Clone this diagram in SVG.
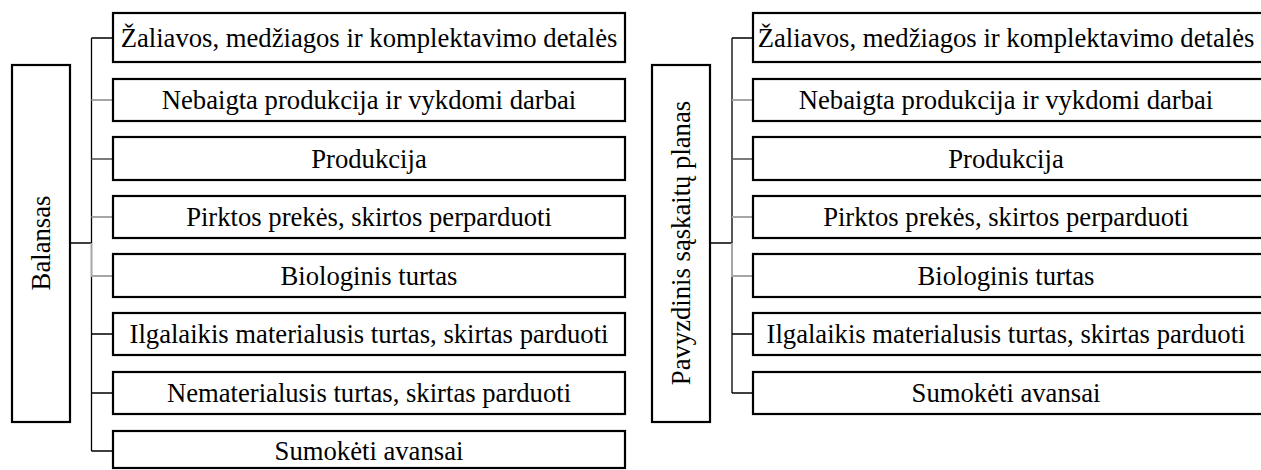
<svg xmlns="http://www.w3.org/2000/svg" width="1261" height="470" viewBox="0 0 1261 470">
<style>
.box{fill:#fff;stroke:#000;stroke-width:2.2}
.t{font-family:"Liberation Serif","Times New Roman","DejaVu Serif",serif;font-size:26.67px;fill:#000;text-anchor:middle}
.c{fill:none;stroke:#000;stroke-width:1.3}
.g{stroke:#a6a6a6;stroke-width:2}
.d{stroke:#5a5a5a;stroke-width:1.6}
</style>
<rect width="1261" height="470" fill="#fff"/>
<g id="connectors">
<path class="c" d="M70 243H91.5M91.5 38V243M91.5 277V451M91.5 38H113M91.5 334H113M91.5 393H113M91.5 451H113"/>
<path class="c g" d="M91.5 243V277M91.5 100H113M91.5 217H113M91.5 276H113"/>
<path class="c d" d="M91.5 159H113"/>
<path class="c" d="M710 243H732M732 38V243M732 277V393M732 38H753M732 334H753M732 393H753"/>
<path class="c g" d="M732 243V277M732 100H753M732 217H753M732 276H753"/>
<path class="c d" d="M732 159H753"/>
</g>
<g id="balansas"><rect class="box" x="12" y="65" width="58" height="357"/><text class="t" transform="translate(50,243) rotate(-90)">Balansas</text></g>
<g id="l1"><rect class="box" x="113" y="13" width="512" height="49"/><text class="t" x="369" y="47">Žaliavos, medžiagos ir komplektavimo detalės</text></g>
<g id="l2"><rect class="box" x="113" y="79" width="512" height="42"/><text class="t" x="369" y="109">Nebaigta produkcija ir vykdomi darbai</text></g>
<g id="l3"><rect class="box" x="113" y="137" width="512" height="43"/><text class="t" x="369" y="168">Produkcija</text></g>
<g id="l4"><rect class="box" x="113" y="196" width="512" height="42"/><text class="t" x="369" y="226">Pirktos prekės, skirtos perparduoti</text></g>
<g id="l5"><rect class="box" x="113" y="254" width="512" height="43"/><text class="t" x="369" y="285">Biologinis turtas</text></g>
<g id="l6"><rect class="box" x="113" y="313" width="512" height="42"/><text class="t" x="369" y="343">Ilgalaikis materialusis turtas, skirtas parduoti</text></g>
<g id="l7"><rect class="box" x="113" y="372" width="512" height="42"/><text class="t" x="369" y="402">Nematerialusis turtas, skirtas parduoti</text></g>
<g id="l8"><rect class="box" x="113" y="431" width="512" height="37"/><text class="t" x="369" y="460">Sumokėti avansai</text></g>
<g id="planas"><rect class="box" x="652" y="65" width="58" height="357"/><text class="t" transform="translate(690,243) rotate(-90)">Pavyzdinis sąskaitų planas</text></g>
<g id="r1"><rect class="box" x="753" y="13" width="512" height="49"/><text class="t" x="1006" y="47">Žaliavos, medžiagos ir komplektavimo detalės</text></g>
<g id="r2"><rect class="box" x="753" y="79" width="512" height="42"/><text class="t" x="1006" y="109">Nebaigta produkcija ir vykdomi darbai</text></g>
<g id="r3"><rect class="box" x="753" y="137" width="512" height="43"/><text class="t" x="1006" y="168">Produkcija</text></g>
<g id="r4"><rect class="box" x="753" y="196" width="512" height="42"/><text class="t" x="1006" y="226">Pirktos prekės, skirtos perparduoti</text></g>
<g id="r5"><rect class="box" x="753" y="254" width="512" height="43"/><text class="t" x="1006" y="285">Biologinis turtas</text></g>
<g id="r6"><rect class="box" x="753" y="313" width="512" height="42"/><text class="t" x="1006" y="343">Ilgalaikis materialusis turtas, skirtas parduoti</text></g>
<g id="r7"><rect class="box" x="753" y="372" width="512" height="42"/><text class="t" x="1006" y="402">Sumokėti avansai</text></g>
</svg>
